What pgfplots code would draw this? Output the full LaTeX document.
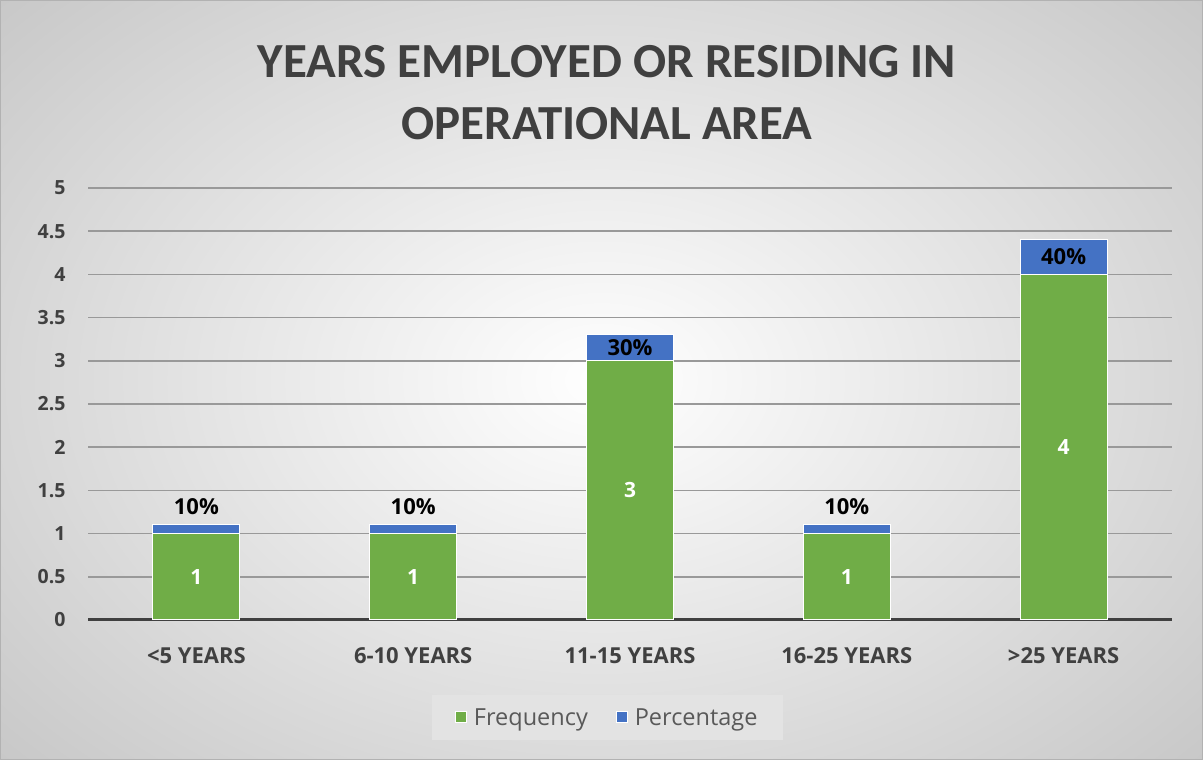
\documentclass[border=0pt]{standalone}
\usepackage{pgfplots}
\usepackage{pgfplotstable}
\pgfplotsset{compat=1.18}
\usepackage{fontspec}
\setmainfont{Carlito}
\newfontfamily\osans{Open Sans}
\definecolor{xgreen}{HTML}{70AD47}
\definecolor{xblue}{HTML}{4472C4}
\definecolor{txt}{HTML}{404040}
\definecolor{leg}{HTML}{595959}

\pgfplotstableread{
x freq pct plab fy py
0 1 0.1 10 0.5 1.31
1 1 0.1 10 0.5 1.31
2 3 0.3 30 1.5 3.15
3 1 0.1 10 0.5 1.31
4 4 0.4 40 2.0 4.20
}\data

\pgfplotsset{myaxis/.style={
  at={(88pt,140pt)}, anchor=south west,
  scale only axis, width=1084pt, height=432pt,
  xmin=-0.5, xmax=4.5, ymin=0, ymax=5}}

\begin{document}
\begin{tikzpicture}
\path[use as bounding box] (0,0) rectangle (1203pt,760pt);
\begin{scope}
\clip (0,0) rectangle (1203pt,760pt);
\shade[inner color=white, outer color=black!24] (-300pt,-250pt) rectangle (1503pt,1010pt);
\end{scope}
\draw[black!30, line width=1pt] (0.5pt,0.5pt) rectangle (1202.5pt,759.5pt);
\node[font=\fontsize{49}{54}\selectfont\bfseries, text=txt, align=center] at (607pt,667pt) {YEARS EMPLOYED OR RESIDING IN\\[8pt]OPERATIONAL AREA};
\begin{axis}[
  myaxis,
  ybar stacked, bar width=87pt,
  axis x line*=bottom, axis y line*=left,
  x axis line style={draw=txt, line width=3pt, -},
  y axis line style={draw=none},
  xtick=data,
  xticklabels={<5 YEARS,6-10 YEARS,11-15 YEARS,16-25 YEARS,>25 YEARS},
  ytick={0,0.5,...,5},
  yticklabels={0,0.5,1,1.5,2,2.5,3,3.5,4,4.5,5},
  major tick length=0pt,
  ymajorgrids, grid style={draw=black!40, line width=1.5pt},
  xticklabel style={font=\osans\fontsize{22}{24}\selectfont\bfseries, text=txt, yshift=-24pt},
  yticklabel style={font=\osans\fontsize{19.5}{22}\selectfont\bfseries, text=txt, xshift=-19pt},
  legend style={at={(0.479,-0.2257)}, anchor=center, legend columns=2, draw=none,
    fill=white!89!black, font=\osans\fontsize{23.5}{26}\selectfont, text=leg,
    inner xsep=23pt, inner ysep=11pt,
    /tikz/every odd column/.append style={column sep=5pt},
    /tikz/every even column/.append style={column sep=26pt}},
  legend image code/.code={\fill[#1] (0pt,-5.5pt) rectangle (11pt,5.5pt);},
]
\addplot[fill=xgreen, draw=white, line width=1pt] table[x=x, y=freq] {\data};
\addlegendentry{Frequency}
\addplot[fill=xblue, draw=white, line width=1pt] table[x=x, y=pct] {\data};
\addlegendentry{Percentage}
\end{axis}
\begin{axis}[myaxis, hide axis]
\addplot[draw=none, mark=none, point meta=explicit symbolic, nodes near coords,
  every node near coord/.append style={anchor=center, text=white, font=\osans\fontsize{21}{24}\selectfont\bfseries}]
  table[x=x, y=fy, meta=freq] {\data};
\addplot[draw=none, mark=none, point meta=explicit symbolic, nodes near coords={\pgfplotspointmeta\%},
  every node near coord/.append style={anchor=center, text=black, font=\osans\fontsize{22}{24}\selectfont\bfseries}]
  table[x=x, y=py, meta=plab] {\data};
\end{axis}
\end{tikzpicture}
\end{document}
